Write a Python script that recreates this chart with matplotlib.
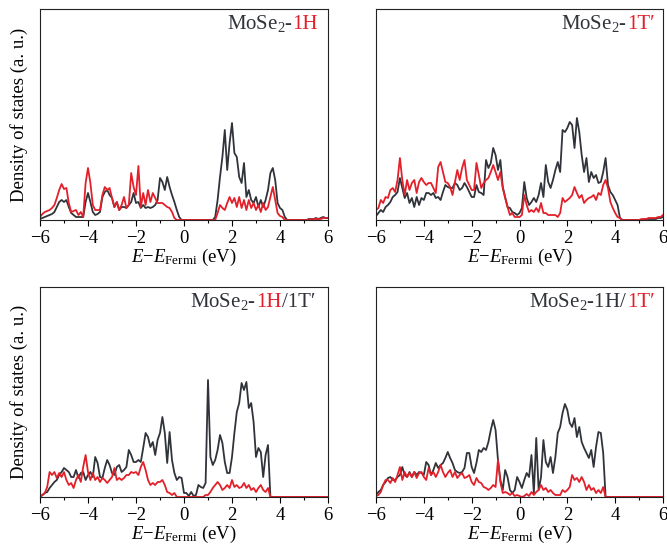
import numpy as np
import matplotlib.pyplot as plt
from matplotlib.offsetbox import TextArea, HPacker, AnchoredOffsetbox

plt.rcParams['font.family'] = ['Liberation Serif', 'DejaVu Serif']
plt.rcParams['mathtext.fontset'] = 'custom'
plt.rcParams['mathtext.rm'] = 'Liberation Serif'
plt.rcParams['mathtext.it'] = 'Liberation Serif:italic'

# energy grid (eV), 0.1 eV steps from -6 to 6
energy = np.round(np.linspace(-6, 6, 121), 1)

# DOS values (a.u.)
h_total = [1, 2, 3, 4, 5, 6, 8, 13, 18, 20,
           18, 20, 13, 7, 5, 3, 3, 3, 3, 18,
           27, 18, 8, 5, 6, 8, 23, 28, 30, 25,
           22, 13, 18, 10, 13, 13, 12, 15, 18, 27,
           17, 18, 12, 15, 12, 13, 12, 13, 15, 20,
           42, 38, 30, 43, 33, 25, 18, 10, 3, 0,
           0, 0, 0, 0, 0, 0, 0, 0, 0, 0,
           0, 0, 0, 3, 20, 43, 63, 90, 50, 77,
           97, 67, 63, 43, 37, 57, 23, 30, 20, 17,
           23, 13, 20, 13, 20, 30, 47, 52, 40, 17,
           12, 10, 3, 0, 0, 0, 0, 0, 0, 0,
           0, 0, 1, 1, 1, 2, 1, 2, 3, 2,
           2]
h_part = [3, 6, 8, 9, 10, 12, 15, 22, 30, 36,
          31, 32, 17, 8, 9, 10, 5, 8, 3, 37,
          52, 37, 15, 10, 10, 10, 25, 33, 30, 32,
          22, 13, 18, 10, 15, 23, 12, 15, 47, 33,
          25, 54, 13, 27, 15, 30, 18, 27, 22, 17,
          17, 17, 15, 13, 12, 8, 2, 0, 0, 0,
          0, 0, 0, 0, 0, 0, 0, 0, 0, 0,
          0, 0, 0, 0, 7, 15, 12, 10, 17, 23,
          17, 22, 13, 23, 12, 20, 10, 20, 12, 17,
          10, 15, 8, 17, 10, 13, 23, 33, 20, 7,
          4, 3, 0, 0, 0, 0, 0, 0, 0, 0,
          0, 0, 0, 1, 1, 1, 1, 1, 2, 2,
          2]

t_total = [4, 7, 10, 8, 13, 15, 18, 23, 25, 28,
           42, 32, 22, 27, 17, 22, 13, 23, 15, 22,
           20, 27, 27, 25, 27, 22, 23, 20, 28, 35,
           33, 32, 32, 37, 35, 30, 32, 37, 33, 28,
           23, 23, 35, 28, 27, 25, 60, 52, 57, 72,
           65, 50, 60, 33, 23, 13, 12, 8, 7, 5,
           7, 12, 38, 22, 15, 18, 22, 18, 25, 37,
           23, 55, 38, 32, 40, 50, 58, 48, 90, 88,
           92, 98, 95, 72, 102, 88, 65, 48, 62, 38,
           48, 42, 45, 37, 38, 48, 62, 35, 28, 25,
           20, 15, 2, 0, 0, 0, 0, 0, 0, 0,
           0, 0, 0, 1, 1, 1, 1, 1, 2, 2,
           3]
t_part = [10, 12, 20, 17, 23, 22, 30, 32, 28, 40,
          62, 40, 25, 40, 30, 37, 40, 27, 38, 42,
          38, 35, 37, 37, 32, 27, 53, 58, 48, 38,
          37, 33, 25, 38, 50, 40, 52, 60, 40, 35,
          30, 30, 57, 45, 32, 37, 40, 42, 48, 55,
          48, 40, 48, 32, 22, 13, 5, 7, 3, 3,
          3, 5, 25, 15, 8, 10, 8, 12, 8, 17,
          7, 7, 5, 5, 5, 5, 3, 7, 22, 18,
          20, 22, 25, 33, 27, 22, 25, 17, 20, 22,
          23, 25, 20, 27, 25, 35, 40, 32, 18, 12,
          7, 3, 2, 0, 0, 0, 0, 0, 0, 0,
          0, 1, 1, 1, 2, 2, 2, 2, 3, 3,
          5]

ht_total_a = [0, 2, 4, 5, 9, 12, 15, 17, 22, 25,
              29, 27, 25, 20, 20, 27, 19, 24, 25, 17,
              22, 25, 20, 40, 34, 20, 19, 29, 37, 32,
              24, 22, 30, 32, 25, 27, 30, 47, 42, 35,
              35, 37, 35, 49, 64, 60, 50, 55, 42, 57,
              64, 80, 64, 34, 65, 37, 24, 17, 20, 19,
              4, 4, 1, 5, 1, 2, 12, 10, 9, 14,
              117, 40, 32, 37, 47, 62, 54, 35, 24, 24,
              40, 64, 85, 94, 114, 107, 115, 89, 94, 75,
              40, 49, 45, 20, 42, 52, 0, 0, 0, 0,
              0, 0, 0, 0, 0, 0, 0, 0, 0, 0,
              0, 0, 0, 0, 0, 0, 0, 0, 0, 0,
              0]
ht_part_a = [0, 2, 4, 10, 25, 22, 25, 19, 24, 20,
             25, 17, 12, 14, 9, 17, 22, 15, 30, 42,
             25, 17, 24, 17, 20, 15, 19, 17, 14, 17,
             20, 29, 17, 19, 17, 19, 22, 22, 25, 24,
             25, 22, 30, 35, 27, 17, 12, 14, 12, 15,
             15, 17, 12, 5, 4, 2, 4, 0, 0, 0,
             0, 0, 0, 0, 0, 0, 0, 0, 0, 2,
             2, 5, 9, 12, 15, 12, 7, 9, 12, 9,
             17, 10, 12, 9, 10, 14, 9, 12, 7, 9,
             5, 9, 12, 7, 5, 9, 0, 0, 0, 0,
             0, 0, 0, 0, 0, 0, 0, 0, 0, 0,
             0, 0, 0, 0, 0, 0, 0, 0, 0, 0,
             0]

ht_total_b = [2, 5, 7, 12, 15, 19, 20, 17, 17, 20,
              22, 30, 22, 20, 25, 20, 25, 22, 25, 24,
              22, 35, 32, 22, 27, 34, 29, 32, 34, 39,
              45, 39, 34, 27, 25, 24, 25, 29, 44, 44,
              30, 24, 34, 47, 45, 49, 47, 55, 67, 77,
              67, 37, 17, 7, 27, 20, 7, 4, 7, 20,
              15, 9, 17, 24, 20, 42, 4, 59, 7, 20,
              57, 35, 30, 40, 24, 40, 64, 70, 84, 93,
              87, 74, 70, 79, 60, 70, 55, 49, 44, 39,
              47, 30, 50, 65, 64, 44, 0, 0, 0, 0,
              0, 0, 0, 0, 0, 0, 0, 0, 0, 0,
              0, 0, 0, 0, 0, 0, 0, 0, 0, 0,
              0]
ht_part_b = [1, 2, 5, 12, 17, 17, 14, 19, 15, 22,
             30, 17, 25, 20, 24, 20, 25, 19, 24, 25,
             20, 17, 29, 22, 25, 20, 25, 32, 25, 20,
             24, 27, 20, 25, 19, 22, 24, 19, 20, 22,
             15, 12, 19, 15, 14, 10, 9, 7, 9, 12,
             10, 37, 15, 4, 5, 4, 2, 4, 1, 2,
             1, 0, 1, 3, 1, 5, 2, 5, 7, 12,
             7, 9, 5, 7, 4, 2, 2, 2, 7, 5,
             7, 10, 22, 17, 19, 15, 20, 15, 7, 12,
             7, 9, 4, 7, 4, 10, 0, 0, 0, 0,
             0, 0, 0, 0, 0, 0, 0, 0, 0, 0,
             0, 0, 0, 0, 0, 0, 0, 0, 0, 0,
             0]

BLACK = '#30343a'
RED = '#e3202a'

titles = [
    [('MoSe$_2$-', BLACK), ('1H', RED)],
    [('MoSe$_2$-', BLACK), ('1T\u2032', RED)],
    [('MoSe$_2$-', BLACK), ('1H', RED), ('/1T\u2032', BLACK)],
    [('MoSe$_2$-1H/', BLACK), ('1T\u2032', RED)],
]
series = [(h_total, h_part), (t_total, t_part),
          (ht_total_a, ht_part_a), (ht_total_b, ht_part_b)]

W, H = 667, 549
fig = plt.figure(figsize=(W / 100, H / 100), dpi=100)
boxes = [(40, 9, 288, 211), (376, 9, 287, 211),
         (40, 287, 288, 210), (376, 287, 287, 210)]
title_gap = [10, 8, 13, 8]

for i, (x0, y0, w, h) in enumerate(boxes):
    ax = fig.add_axes([x0 / W, 1 - (y0 + h) / H, w / W, h / H])
    tot, part = series[i]
    ax.plot(energy, tot, color=BLACK, lw=1.3)
    ax.plot(energy, part, color=RED, lw=1.3)
    ax.set_xlim(-6, 6)
    ax.set_ylim(0, h)
    ax.set_xticks(np.arange(-6, 7, 2))
    ax.set_xticks(np.arange(-5, 6, 2), minor=True)
    ax.set_xticklabels(['\u2212' + str(-v) if v < 0 else str(v) for v in range(-6, 7, 2)])
    ax.set_yticks([])
    ax.tick_params(axis='x', which='major', direction='out', length=4, width=0.8,
                   labelsize=13.5, pad=3)
    ax.tick_params(axis='x', which='minor', direction='out', length=2.5, width=0.8)
    for s in ax.spines.values():
        s.set_linewidth(0.8)
        s.set_color('#222222')
    ax.set_xlabel('$E$\u2212$E_{\\mathrm{Fermi}}$ (eV)', fontsize=13.5, labelpad=0)

    parts = [TextArea(s, textprops=dict(color=c, fontsize=15)) for s, c in titles[i]]
    pack = HPacker(children=parts, align='baseline', pad=0, sep=0)
    anc = AnchoredOffsetbox(loc='upper right', child=pack, frameon=False, pad=0,
                            borderpad=0,
                            bbox_to_anchor=(1 - title_gap[i] / w, 1 - 4 / h),
                            bbox_transform=ax.transAxes)
    ax.add_artist(anc)

    if i % 2 == 0:
        fig.text(19 / W, 1 - (y0 + h / 2) / H, 'Density of states (a. u.)',
                 rotation=90, ha='center', va='center', fontsize=13.5)

fig.savefig('out.png', dpi=100)
